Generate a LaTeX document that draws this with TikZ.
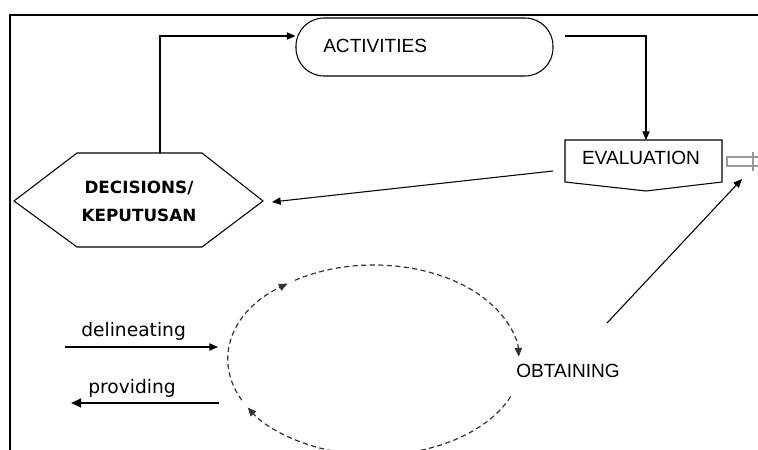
\documentclass[tikz,border=0pt]{standalone}
\usepackage{fontspec}
\setmainfont{Liberation Sans}
\newfontfamily\dejavu{DejaVu Sans}
\usetikzlibrary{arrows.meta}
\begin{document}
\begin{tikzpicture}[x=0.75pt,y=-0.75pt,
  ln/.style={line width=0.8pt},
  arr/.style={ln,-{Triangle[length=6.5pt,width=5.5pt]}},
  dsh/.style={line width=0.9pt, draw=black!80, dash pattern=on 3.8pt off 2.6pt, -{Triangle[length=6.5pt,width=5.5pt]}},
  capt/.style={font=\fontsize{14.3}{16}\selectfont, inner sep=0pt},
  small/.style={font=\dejavu\fontsize{14}{16}\selectfont, inner sep=0pt},
  boldt/.style={font=\dejavu\bfseries\fontsize{12.6}{21}\selectfont, inner sep=0pt, align=center},
  pill/.style={draw, ln, rounded corners=21pt, minimum width=192.75pt, minimum height=43.5pt, inner sep=0pt}
]
\useasboundingbox (0,0) rectangle (758,450);
% frame
\draw[ln] (758,15) -- (10,15) -- (10,450);

% ACTIVITIES
\node[pill] (act) at (424.5,47) {};
\node[capt, anchor=west] (actT) at (323,46) {ACTIVITIES};

% EVALUATION
\coordinate (evTop) at (646,140);
\draw[ln] (565,140) -- (722,140) -- (722,182) -- (646,191) -- (565,182) -- cycle;
\node[capt] (evT) at (641,158) {EVALUATION};
\coordinate (evLeft) at (553,171);
\coordinate (evIn) at (742,179);
% block arrow stub at right
\draw[gray!80, line width=0.8pt] (758,157) -- (727,157) -- (727,166) -- (758,166);
\draw[gray!80, line width=0.8pt] (753,152) -- (753,171);

% DECISIONS
\draw[ln] (14,201) -- (77,153) -- (202,153) -- (263,201) -- (202,247) -- (77,247) -- cycle;
\node[boldt] (dec) at (139,201) {DECISIONS/\\KEPUTUSAN};
\coordinate (decTop) at (160,153);
\coordinate (decRight) at (272,202);

% connectors
\draw[arr] (decTop) -- (160,36) -- (act.west |- 0,36);
\coordinate (actOut) at (565,36);
\draw[arr] (actOut) -- (646,36) -- (evTop);
\draw[arr] (evLeft) -- (decRight);
\coordinate (obFrom) at (607,323);
\draw[arr] (obFrom) -- (evIn);

% cycle
\coordinate (cc) at (375,360);
\draw[dsh] ([shift={(22.6:147 and 95)}]cc) arc[start angle=22.6, end angle=150, x radius=147, y radius=95];
\draw[dsh] ([shift={(155:147 and 95)}]cc) arc[start angle=155, end angle=233.5, x radius=147, y radius=95];
\draw[dsh] ([shift={(237:147 and 95)}]cc) arc[start angle=237, end angle=358, x radius=145, y radius=95];
\node[capt, anchor=west] (ob) at (516,371) {OBTAINING};

% delineating / providing
\coordinate (dl0) at (65,347);
\coordinate (dl1) at (218,347);
\draw[arr] (dl0) -- (dl1);
\node[small, anchor=base west] (dlT) at (81,336) {delineating};
\coordinate (pv0) at (219,403);
\coordinate (pv1) at (71,403);
\draw[line width=1.5pt, -{Triangle[length=7.5pt,width=6.5pt]}] (pv0) -- (pv1);
\node[small, anchor=base west] (pvT) at (88,393) {providing};
\end{tikzpicture}
\end{document}
